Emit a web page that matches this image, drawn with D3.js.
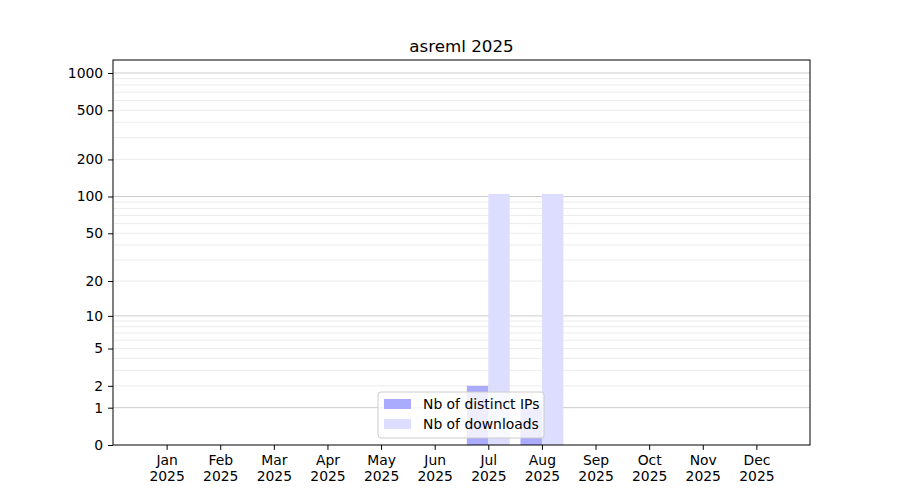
<!DOCTYPE html>
<html lang="en">
<head>
  <meta charset="UTF-8">
  <title>asreml 2025</title>
  <script src="https://d3js.org/d3.v7.min.js"></script>
  <style>
    body { margin: 0; background: #fff; }
    text { font-family: "DejaVu Sans", sans-serif; fill: #000; }
    .tick text { font-size: 13.9px; }
  </style>
</head>
<body>
  <script>
    // data
    const months = ["Jan", "Feb", "Mar", "Apr", "May", "Jun", "Jul", "Aug", "Sep", "Oct", "Nov", "Dec"];
    const year = "2025";
    const distinctIPs = [0, 0, 0, 0, 0, 0, 2, 1, 0, 0, 0, 0];
    const downloads = [0, 0, 0, 0, 0, 0, 105, 105, 0, 0, 0, 0];
    const yTicks = [0, 1, 2, 5, 10, 20, 50, 100, 200, 500, 1000];
    const majorGrid = [1, 10, 100, 1000];
    const minorGrid = [2, 3, 4, 5, 6, 7, 8, 9, 20, 30, 40, 50, 60, 70, 80, 90, 200, 300, 400, 500, 600, 700, 800, 900];

    const width = 900, height = 500;
    const plotL = 113, plotR = 810, plotT = 60, plotB = 445;
    const barW = 0.4;

    const svg = d3.select("body").append("svg")
      .attr("width", width)
      .attr("height", height);

    const x = d3.scaleLinear().domain([-1, 12]).range([plotL, plotR]);
    const y = d3.scaleSymlog().constant(1).domain([0, 1273]).range([plotB, plotT]);

    // grid
    svg.append("g").selectAll("line")
      .data(minorGrid)
      .enter().append("line")
      .attr("x1", plotL).attr("x2", plotR)
      .attr("y1", d => y(d)).attr("y2", d => y(d))
      .attr("stroke", "#ececec").attr("stroke-width", 1);

    svg.append("g").selectAll("line")
      .data(majorGrid)
      .enter().append("line")
      .attr("x1", plotL).attr("x2", plotR)
      .attr("y1", d => y(d)).attr("y2", d => y(d))
      .attr("stroke", "#cccccc").attr("stroke-width", 1);

    // bars
    svg.append("g").selectAll("rect")
      .data(distinctIPs)
      .enter().append("rect")
      .attr("x", (d, i) => x(i - barW))
      .attr("width", x(barW) - x(0))
      .attr("y", d => y(d))
      .attr("height", d => plotB - y(d))
      .attr("fill", "#aaaaff");

    svg.append("g").selectAll("rect")
      .data(downloads)
      .enter().append("rect")
      .attr("x", (d, i) => x(i))
      .attr("width", x(barW) - x(0))
      .attr("y", d => y(d))
      .attr("height", d => plotB - y(d))
      .attr("fill", "#ddddff");

    // axes
    const xAxis = svg.append("g")
      .attr("transform", `translate(0,${plotB})`)
      .call(d3.axisBottom(x).tickValues(d3.range(12)).tickSize(4.9).tickPadding(5).tickFormat(() => ""));
    xAxis.select(".domain").remove();
    xAxis.selectAll(".tick").each(function(d) {
      const t = d3.select(this).select("text");
      t.append("tspan").attr("x", 0).attr("dy", "0.71em").text(months[d]);
      t.append("tspan").attr("x", 0).attr("dy", "1.15em").text(year);
    });

    const yAxis = svg.append("g")
      .attr("transform", `translate(${plotL},0)`)
      .call(d3.axisLeft(y).tickValues(yTicks).tickSize(4.9).tickPadding(4.9).tickFormat(d3.format("d")));
    yAxis.select(".domain").remove();

    svg.append("rect")
      .attr("x", plotL).attr("y", plotT)
      .attr("width", plotR - plotL).attr("height", plotB - plotT)
      .attr("fill", "none").attr("stroke", "#000").attr("stroke-width", 1);

    // title
    svg.append("text")
      .attr("x", (plotL + plotR) / 2)
      .attr("y", 52)
      .attr("text-anchor", "middle")
      .style("font-size", "16.7px")
      .text("asreml 2025");

    // legend
    const legend = svg.append("g").attr("transform", "translate(378,392)");
    legend.append("rect")
      .attr("width", 166).attr("height", 46)
      .attr("rx", 3)
      .attr("fill", "#fff").attr("fill-opacity", 0.8)
      .attr("stroke", "#cccccc");
    const items = [["Nb of distinct IPs", "#aaaaff"], ["Nb of downloads", "#ddddff"]];
    items.forEach((it, i) => {
      legend.append("rect")
        .attr("x", 6).attr("y", 7 + i * 20)
        .attr("width", 27).attr("height", 10)
        .attr("fill", it[1]);
      legend.append("text")
        .attr("x", 45).attr("y", 17 + i * 20)
        .style("font-size", "13.9px")
        .text(it[0]);
    });
  </script>
</body>
</html>
